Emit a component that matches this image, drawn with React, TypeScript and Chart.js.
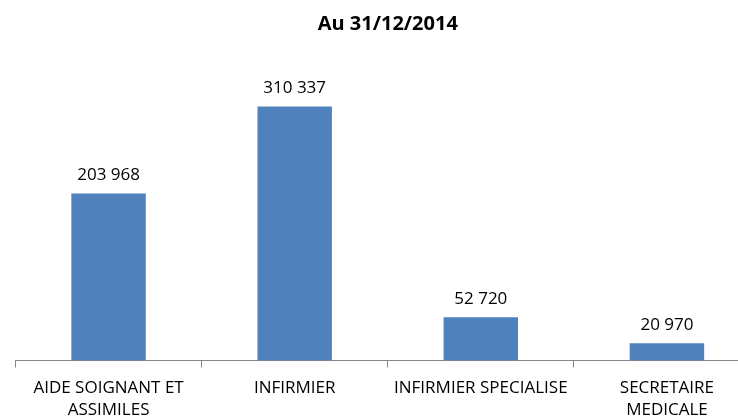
import React, { useEffect, useRef } from "react";
import { Chart, registerables } from "chart.js";

Chart.register(...registerables);

const titleText = "Au 31/12/2014";
const categories: (string | string[])[] = [
  ["AIDE SOIGNANT ET", "ASSIMILES"],
  "INFIRMIER",
  "INFIRMIER SPECIALISE",
  ["SECRETAIRE", "MEDICALE"],
];
const values = [203968, 310337, 52720, 20970];
const yMax = 350000;

const FONT = "'Open Sans', sans-serif";

const fmt = (v: number) => String(v).replace(/\B(?=(\d{3})+(?!\d))/g, " ");

const labelPlugin = {
  id: "barLabels",
  afterDatasetsDraw(chart: any) {
    const ctx = chart.ctx;
    const meta = chart.getDatasetMeta(0);
    ctx.save();
    ctx.font = `17px ${FONT}`;
    ctx.fillStyle = "#000";
    ctx.textAlign = "center";
    ctx.textBaseline = "middle";
    meta.data.forEach((el: any, i: number) => {
      ctx.fillText(fmt(values[i]), el.x, el.y - 18);
    });
    ctx.restore();
  },
};

export default function App() {
  const ref = useRef<HTMLCanvasElement>(null);
  useEffect(() => {
    document.body.style.margin = "0";
    const chart = new Chart(ref.current!, {
      type: "bar",
      data: {
        labels: categories,
        datasets: [
          {
            data: values,
            backgroundColor: "#4F81BD",
            barPercentage: 0.8,
            categoryPercentage: 0.5,
          },
        ],
      },
      options: {
        animation: false,
        responsive: false,
        layout: { padding: { left: 15.5, right: 0, top: 0, bottom: 0 } },
        plugins: {
          legend: { display: false },
          tooltip: { enabled: false },
          title: {
            display: true,
            text: titleText,
            color: "#000",
            font: { family: FONT, size: 20, weight: "bold", lineHeight: 1.2 },
            padding: { top: 12, bottom: 38 },
          },
        },
        scales: {
          x: {
            offset: true,
            grid: {
              offset: true,
              drawOnChartArea: false,
              drawTicks: true,
              tickLength: 7,
              color: "#868686",
            },
            border: { display: true, color: "#868686", width: 1 },
            ticks: {
              color: "#000",
              maxRotation: 0,
              autoSkip: false,
              padding: 9,
              font: { family: FONT, size: 17, lineHeight: 1.32 },
            },
            afterFit: (s: any) => {
              s.height = 59.5;
            },
          },
          y: { display: false, min: 0, max: yMax },
        },
      },
      plugins: [labelPlugin],
    });
    return () => chart.destroy();
  }, []);
  return (
    <div style={{ width: 738, height: 420, overflow: "hidden" }}>
      <canvas ref={ref} width={760} height={420} style={{ display: "block", width: 760, height: 420 }} />
    </div>
  );
}
